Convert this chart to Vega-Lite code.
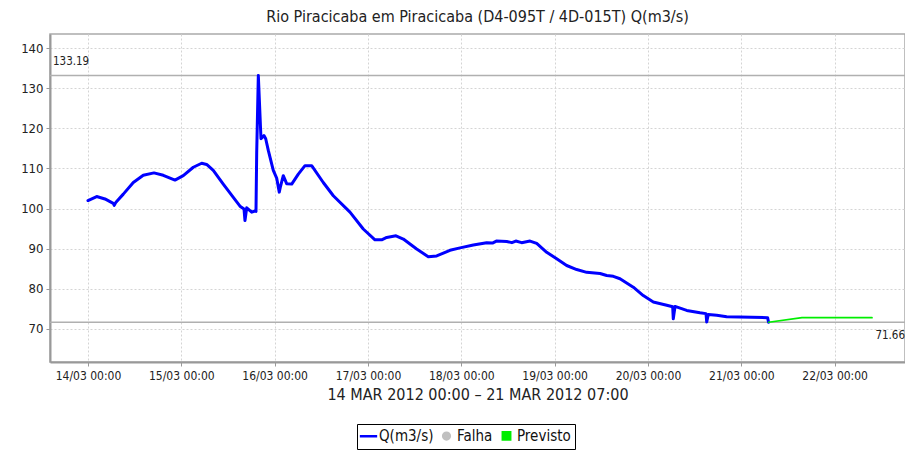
{
  "$schema": "https://vega.github.io/schema/vega-lite/v6.json",
  "autosize": {"type": "none"},
  "padding": {"left": 50, "top": 34, "right": 0, "bottom": 94},
  "width": 855,
  "height": 328,
  "background": "white",
  "config": {
    "font": "DejaVu Sans Condensed",
    "view": {"stroke": "#aaaaaa", "strokeWidth": 1.5},
    "axis": {
      "labelFont": "DejaVu Sans Condensed",
      "labelColor": "#222222",
      "domainColor": "#999999",
      "domainWidth": 2,
      "tickColor": "#999999",
      "tickSize": 4,
      "gridColor": "#d4d4d4",
      "gridDash": [2, 2],
      "gridWidth": 1
    }
  },
  "title": {
    "text": "Rio Piracicaba em Piracicaba (D4-095T / 4D-015T) Q(m3/s)",
    "font": "DejaVu Sans Condensed",
    "fontSize": 16,
    "fontWeight": "normal",
    "color": "#222222",
    "offset": 9
  },
  "datasets": {
    "serie": [
      {"t": "2012-03-14T00:00", "q": 102.0, "s": "Q(m3/s)"},
      {"t": "2012-03-14T02:14", "q": 103.0, "s": "Q(m3/s)"},
      {"t": "2012-03-14T04:22", "q": 102.4, "s": "Q(m3/s)"},
      {"t": "2012-03-14T06:30", "q": 101.3, "s": "Q(m3/s)"},
      {"t": "2012-03-14T06:45", "q": 100.8, "s": "Q(m3/s)"},
      {"t": "2012-03-14T07:12", "q": 101.6, "s": "Q(m3/s)"},
      {"t": "2012-03-14T09:05", "q": 103.6, "s": "Q(m3/s)"},
      {"t": "2012-03-14T11:39", "q": 106.5, "s": "Q(m3/s)"},
      {"t": "2012-03-14T14:13", "q": 108.3, "s": "Q(m3/s)"},
      {"t": "2012-03-14T16:58", "q": 108.9, "s": "Q(m3/s)"},
      {"t": "2012-03-14T19:22", "q": 108.3, "s": "Q(m3/s)"},
      {"t": "2012-03-14T22:22", "q": 107.1, "s": "Q(m3/s)"},
      {"t": "2012-03-15T00:30", "q": 108.2, "s": "Q(m3/s)"},
      {"t": "2012-03-15T03:05", "q": 110.3, "s": "Q(m3/s)"},
      {"t": "2012-03-15T05:14", "q": 111.3, "s": "Q(m3/s)"},
      {"t": "2012-03-15T06:31", "q": 111.0, "s": "Q(m3/s)"},
      {"t": "2012-03-15T08:13", "q": 109.5, "s": "Q(m3/s)"},
      {"t": "2012-03-15T10:47", "q": 106.1, "s": "Q(m3/s)"},
      {"t": "2012-03-15T13:22", "q": 102.8, "s": "Q(m3/s)"},
      {"t": "2012-03-15T15:05", "q": 100.6, "s": "Q(m3/s)"},
      {"t": "2012-03-15T16:07", "q": 99.9, "s": "Q(m3/s)"},
      {"t": "2012-03-15T16:22", "q": 97.0, "s": "Q(m3/s)"},
      {"t": "2012-03-15T16:49", "q": 100.2, "s": "Q(m3/s)"},
      {"t": "2012-03-15T18:06", "q": 99.1, "s": "Q(m3/s)"},
      {"t": "2012-03-15T18:56", "q": 99.4, "s": "Q(m3/s)"},
      {"t": "2012-03-15T19:12", "q": 99.3, "s": "Q(m3/s)"},
      {"t": "2012-03-15T19:23", "q": 114.0, "s": "Q(m3/s)"},
      {"t": "2012-03-15T19:48", "q": 133.19, "s": "Q(m3/s)"},
      {"t": "2012-03-15T20:29", "q": 117.4, "s": "Q(m3/s)"},
      {"t": "2012-03-15T21:15", "q": 118.2, "s": "Q(m3/s)"},
      {"t": "2012-03-15T21:42", "q": 117.4, "s": "Q(m3/s)"},
      {"t": "2012-03-15T22:22", "q": 114.5, "s": "Q(m3/s)"},
      {"t": "2012-03-15T23:39", "q": 109.5, "s": "Q(m3/s)"},
      {"t": "2012-03-16T00:31", "q": 107.6, "s": "Q(m3/s)"},
      {"t": "2012-03-16T01:11", "q": 104.1, "s": "Q(m3/s)"},
      {"t": "2012-03-16T01:30", "q": 105.5, "s": "Q(m3/s)"},
      {"t": "2012-03-16T02:13", "q": 108.2, "s": "Q(m3/s)"},
      {"t": "2012-03-16T03:05", "q": 106.2, "s": "Q(m3/s)"},
      {"t": "2012-03-16T04:23", "q": 106.1, "s": "Q(m3/s)"},
      {"t": "2012-03-16T06:05", "q": 108.6, "s": "Q(m3/s)"},
      {"t": "2012-03-16T07:48", "q": 110.7, "s": "Q(m3/s)"},
      {"t": "2012-03-16T09:31", "q": 110.7, "s": "Q(m3/s)"},
      {"t": "2012-03-16T12:30", "q": 106.5, "s": "Q(m3/s)"},
      {"t": "2012-03-16T15:05", "q": 103.2, "s": "Q(m3/s)"},
      {"t": "2012-03-16T19:22", "q": 99.1, "s": "Q(m3/s)"},
      {"t": "2012-03-16T22:47", "q": 94.9, "s": "Q(m3/s)"},
      {"t": "2012-03-17T01:48", "q": 92.2, "s": "Q(m3/s)"},
      {"t": "2012-03-17T03:31", "q": 92.2, "s": "Q(m3/s)"},
      {"t": "2012-03-17T04:49", "q": 92.8, "s": "Q(m3/s)"},
      {"t": "2012-03-17T07:12", "q": 93.2, "s": "Q(m3/s)"},
      {"t": "2012-03-17T09:05", "q": 92.4, "s": "Q(m3/s)"},
      {"t": "2012-03-17T12:31", "q": 89.9, "s": "Q(m3/s)"},
      {"t": "2012-03-17T15:30", "q": 88.0, "s": "Q(m3/s)"},
      {"t": "2012-03-17T17:40", "q": 88.2, "s": "Q(m3/s)"},
      {"t": "2012-03-17T21:05", "q": 89.6, "s": "Q(m3/s)"},
      {"t": "2012-03-17T23:40", "q": 90.2, "s": "Q(m3/s)"},
      {"t": "2012-03-18T03:05", "q": 90.9, "s": "Q(m3/s)"},
      {"t": "2012-03-18T06:31", "q": 91.5, "s": "Q(m3/s)"},
      {"t": "2012-03-18T08:00", "q": 91.4, "s": "Q(m3/s)"},
      {"t": "2012-03-18T09:00", "q": 91.9, "s": "Q(m3/s)"},
      {"t": "2012-03-18T11:40", "q": 91.8, "s": "Q(m3/s)"},
      {"t": "2012-03-18T13:00", "q": 91.5, "s": "Q(m3/s)"},
      {"t": "2012-03-18T14:00", "q": 91.9, "s": "Q(m3/s)"},
      {"t": "2012-03-18T15:30", "q": 91.5, "s": "Q(m3/s)"},
      {"t": "2012-03-18T17:40", "q": 91.9, "s": "Q(m3/s)"},
      {"t": "2012-03-18T19:23", "q": 91.3, "s": "Q(m3/s)"},
      {"t": "2012-03-18T21:57", "q": 89.1, "s": "Q(m3/s)"},
      {"t": "2012-03-19T00:31", "q": 87.5, "s": "Q(m3/s)"},
      {"t": "2012-03-19T03:05", "q": 85.8, "s": "Q(m3/s)"},
      {"t": "2012-03-19T05:40", "q": 84.8, "s": "Q(m3/s)"},
      {"t": "2012-03-19T08:14", "q": 84.1, "s": "Q(m3/s)"},
      {"t": "2012-03-19T11:40", "q": 83.8, "s": "Q(m3/s)"},
      {"t": "2012-03-19T13:23", "q": 83.3, "s": "Q(m3/s)"},
      {"t": "2012-03-19T15:05", "q": 83.1, "s": "Q(m3/s)"},
      {"t": "2012-03-19T16:48", "q": 82.5, "s": "Q(m3/s)"},
      {"t": "2012-03-19T20:13", "q": 80.4, "s": "Q(m3/s)"},
      {"t": "2012-03-19T22:47", "q": 78.3, "s": "Q(m3/s)"},
      {"t": "2012-03-20T01:22", "q": 76.7, "s": "Q(m3/s)"},
      {"t": "2012-03-20T04:49", "q": 75.9, "s": "Q(m3/s)"},
      {"t": "2012-03-20T06:21", "q": 75.5, "s": "Q(m3/s)"},
      {"t": "2012-03-20T06:30", "q": 72.5, "s": "Q(m3/s)"},
      {"t": "2012-03-20T06:57", "q": 75.6, "s": "Q(m3/s)"},
      {"t": "2012-03-20T09:57", "q": 74.6, "s": "Q(m3/s)"},
      {"t": "2012-03-20T13:22", "q": 74.0, "s": "Q(m3/s)"},
      {"t": "2012-03-20T14:55", "q": 73.8, "s": "Q(m3/s)"},
      {"t": "2012-03-20T15:06", "q": 71.7, "s": "Q(m3/s)"},
      {"t": "2012-03-20T15:30", "q": 73.6, "s": "Q(m3/s)"},
      {"t": "2012-03-20T17:40", "q": 73.4, "s": "Q(m3/s)"},
      {"t": "2012-03-20T20:14", "q": 73.0, "s": "Q(m3/s)"},
      {"t": "2012-03-21T06:45", "q": 72.8, "s": "Q(m3/s)"},
      {"t": "2012-03-21T07:00", "q": 71.66, "s": "Q(m3/s)"},
      {"t": "2012-03-21T07:00", "q": 71.66, "s": "Previsto"},
      {"t": "2012-03-21T15:36", "q": 72.8, "s": "Previsto"},
      {"t": "2012-03-22T09:36", "q": 72.8, "s": "Previsto"}
    ],
    "refs": [
      {"v": 133.19},
      {"v": 71.66}
    ]
  },
  "layer": [
    {
      "data": {"name": "refs"},
      "mark": {"type": "rule", "color": "#b0b0b0", "strokeWidth": 1.5},
      "encoding": {"y": {"field": "v", "type": "quantitative"}}
    },
    {
      "data": {"name": "serie"},
      "mark": {"type": "line", "interpolate": "linear", "clip": true, "strokeJoin": "round", "strokeCap": "round"},
      "encoding": {
        "x": {
          "field": "t",
          "type": "temporal",
          "scale": {
            "domain": [
              {"year": 2012, "month": 3, "date": 13, "hours": 14, "minutes": 14},
              {"year": 2012, "month": 3, "date": 22, "hours": 18, "minutes": 5}
            ]
          },
          "axis": {
            "values": [
              {"year": 2012, "month": 3, "date": 14},
              {"year": 2012, "month": 3, "date": 15},
              {"year": 2012, "month": 3, "date": 16},
              {"year": 2012, "month": 3, "date": 17},
              {"year": 2012, "month": 3, "date": 18},
              {"year": 2012, "month": 3, "date": 19},
              {"year": 2012, "month": 3, "date": 20},
              {"year": 2012, "month": 3, "date": 21},
              {"year": 2012, "month": 3, "date": 22}
            ],
            "format": "%d/%m %H:%M",
            "labelFontSize": 12,
            "labelPadding": 4,
            "labelFlush": false,
            "title": "14 MAR 2012 00:00 – 21 MAR 2012 07:00",
            "titleFont": "DejaVu Sans Condensed",
            "titleFontSize": 16,
            "titleFontWeight": "normal",
            "titleColor": "#222222",
            "titlePadding": 5
          }
        },
        "y": {
          "field": "q",
          "type": "quantitative",
          "scale": {"domain": [61.74, 143.53], "nice": false, "zero": false},
          "axis": {
            "values": [70, 80, 90, 100, 110, 120, 130, 140],
            "labelFontSize": 13,
            "labelPadding": 3,
            "title": null
          }
        },
        "color": {
          "field": "s",
          "type": "nominal",
          "scale": {
            "domain": ["Q(m3/s)", "Falha", "Previsto"],
            "range": ["#0000ff", "#c0c0c0", "#00ee00"]
          },
          "legend": {
            "title": null,
            "orient": "none",
            "direction": "horizontal",
            "legendX": 307,
            "legendY": 390,
            "strokeColor": "#000000",
            "padding": 4,
            "columnPadding": 4,
            "labelFont": "DejaVu Sans Condensed",
            "labelFontSize": 15,
            "labelColor": "#111111",
            "labelOffset": 3,
            "symbolSize": 256,
            "encode": {
              "symbols": {
                "update": {
                  "shape": {"signal": "datum.value === 'Q(m3/s)' ? 'stroke' : (datum.value === 'Falha' ? 'circle' : 'square')"},
                  "size": {"signal": "datum.value === 'Q(m3/s)' ? 300 : (datum.value === 'Falha' ? 45 : 55)"},
                  "fill": {"signal": "datum.value === 'Q(m3/s)' ? 'transparent' : (datum.value === 'Falha' ? '#c0c0c0' : '#00ee00')"},
                  "stroke": {"signal": "datum.value === 'Q(m3/s)' ? '#0000ff' : 'transparent'"},
                  "strokeWidth": {"value": 2.5},
                  "opacity": {"value": 1}
                }
              }
            }
          }
        },
        "strokeWidth": {
          "field": "s",
          "type": "nominal",
          "scale": {"domain": ["Q(m3/s)", "Previsto"], "range": [3, 1.7]},
          "legend": null
        }
      }
    },
    {
      "data": {"values": [{"lbl": "133.19"}]},
      "mark": {"type": "text", "align": "left", "baseline": "middle", "dx": 3, "dy": -13, "fontSize": 11.5, "color": "#222222", "font": "DejaVu Sans Condensed"},
      "encoding": {
        "x": {"datum": {"year": 2012, "month": 3, "date": 13, "hours": 14, "minutes": 14}, "type": "temporal"},
        "y": {"datum": 133.19, "type": "quantitative"},
        "text": {"field": "lbl"}
      }
    },
    {
      "data": {"values": [{"lbl": "71.66"}]},
      "mark": {"type": "text", "align": "right", "baseline": "middle", "dx": 0, "dy": 14, "fontSize": 11.5, "color": "#222222", "font": "DejaVu Sans Condensed"},
      "encoding": {
        "x": {"datum": {"year": 2012, "month": 3, "date": 22, "hours": 18, "minutes": 5}, "type": "temporal"},
        "y": {"datum": 71.66, "type": "quantitative"},
        "text": {"field": "lbl"}
      }
    }
  ]
}
